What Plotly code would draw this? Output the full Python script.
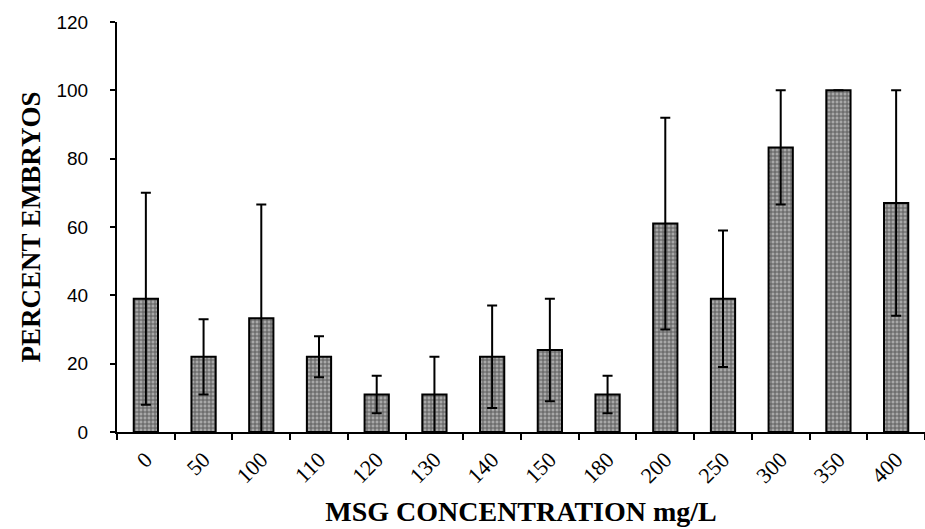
import plotly.graph_objects as go

categories = ["0", "50", "100", "110", "120", "130", "140", "150", "180", "200", "250", "300", "350", "400"]
percent = [39, 22, 33.3, 22, 11, 11, 22, 24, 11, 61, 39, 83.3, 100, 67]
err = [31, 11, 33.3, 6, 5.5, 11, 15, 15, 5.5, 31, 20, 16.7, 0, 33]
y_ticks = [0, 20, 40, 60, 80, 100, 120]

fig = go.Figure()
fig.add_trace(go.Bar(
    x=categories, y=percent, width=0.42,
    marker=dict(color="#a8a8a8", line=dict(color="black", width=2),
                pattern=dict(shape="+", fgcolor="#111111", size=4, solidity=0.45)),
    error_y=dict(type="data", array=err, visible=True, color="black", thickness=2, width=5),
))
fig.update_layout(
    width=925, height=529, margin=dict(l=117, r=0, t=22, b=97),
    plot_bgcolor="white", paper_bgcolor="white", showlegend=False,
    xaxis=dict(type="category", range=[-0.5, 13.5], showline=True, linecolor="black", linewidth=2,
               ticks="outside", tickson="boundaries", ticklen=6, tickwidth=2, tickcolor="black",
               tickangle=-45, ticklabelstandoff=4,
               tickfont=dict(family="Liberation Serif", size=22, color="black"),
               title=dict(text="<b>MSG CONCENTRATION mg/L</b>", font=dict(family="Liberation Serif", size=28, color="black"), standoff=14),
               showgrid=False),
    yaxis=dict(range=[0, 120], tickvals=y_ticks, showline=True, linecolor="black", linewidth=2,
               ticks="outside", ticklen=5, tickwidth=2, tickcolor="black", ticklabelstandoff=18,
               tickfont=dict(family="Liberation Sans", size=19, color="black"),
               title=dict(text="<b>PERCENT EMBRYOS</b>", font=dict(family="Liberation Serif", size=27, color="black"), standoff=8),
               showgrid=False, zeroline=False),
)
fig.write_html("out.html")
